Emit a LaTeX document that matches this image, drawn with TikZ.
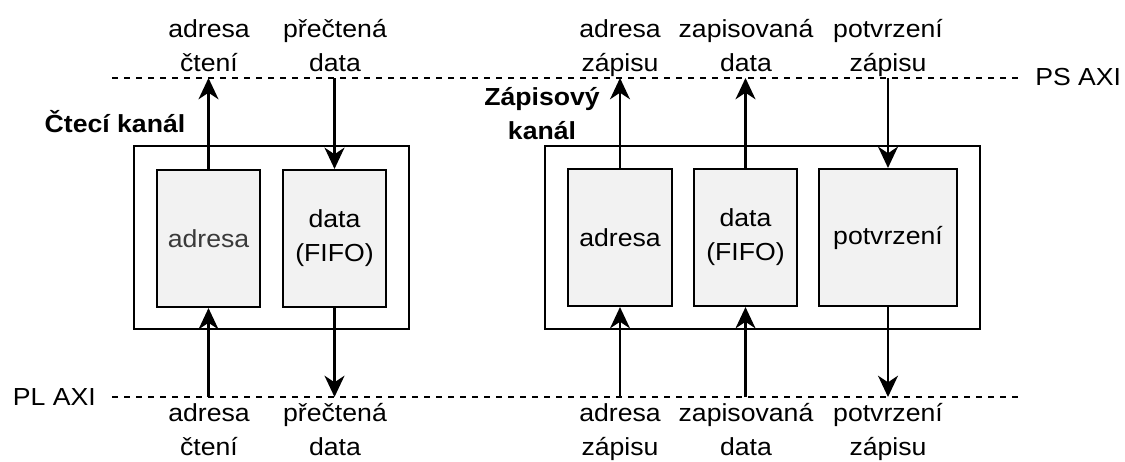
\documentclass[tikz,border=0pt]{standalone}
\usepackage{fontspec}
\setmainfont{Liberation Sans}[FakeStretch=1.08]
\usetikzlibrary{arrows.meta}
\definecolor{innerfill}{HTML}{F2F2F2}
\definecolor{softtext}{HTML}{3A3A3A}
\tikzset{
  lbl/.style={font=\fontsize{18.5}{25.5}\selectfont, align=center, inner sep=0pt, anchor=base},
  blbl/.style={font=\fontsize{18.5}{25.5}\selectfont\bfseries, align=center, inner sep=0pt, anchor=base},
  outerbox/.style={draw, line width=1.6pt, minimum height=137.25pt, inner sep=0pt},
  innerbox/.style={draw, line width=1.6pt, fill=innerfill, minimum height=102.75pt, inner sep=0pt,
                   font=\fontsize{18.5}{25.5}\selectfont, align=center},
  busline/.style={line width=1.6pt, dash pattern=on 4.5pt off 4.5pt},
  arr/.style={line width=1.6pt, -{Stealth[length=16pt,width=15pt,inset=5pt]}}
}
\begin{document}
\begin{tikzpicture}[x=0.75pt,y=-0.75pt]
\useasboundingbox (0,0) rectangle (1125,461);

% bus lines
\coordinate (PSa) at (112,78);
\coordinate (PSb) at (1022,78);
\coordinate (PLa) at (112,397);
\coordinate (PLb) at (1022,397);
\draw[busline] (PSa) -- (PSb);
\draw[busline] (PLa) -- (PLb);
\node[lbl, anchor=base west] (psaxi) at (1035,85) {PS AXI};
\node[lbl, anchor=base east] (plaxi) at (96,405) {PL AXI};

% read channel
\node[outerbox, minimum width=206.25pt] (LO) at (271.5,237.5) {};
\node[innerbox, minimum width=77.25pt, text=softtext] (LA) at (208.5,238.5) {adresa};
\node[innerbox, minimum width=77.25pt] (LD) at (334.5,238.5) {data\\(FIFO)};
\node[blbl] (LT) at (115,132) {Čtecí kanál};

% write channel
\node[outerbox, minimum width=326.25pt] (RO) at (762.5,237.5) {};
\node[innerbox, minimum width=78pt] (RA) at (620,237.5) {adresa};
\node[innerbox, minimum width=77.25pt] (RD) at (745.5,237.5) {data\\(FIFO)};
\node[innerbox, minimum width=103.5pt] (RP) at (888,237.5) {potvrzení};
\node[blbl] (RT) at (542,139) {Zápisový\\kanál};

% arrows to PS AXI
\draw[arr] (LA.north) -- (LA.north |- PSa);
\draw[arr] (LD.north |- PSa) -- (LD.north);
\draw[arr] (RA.north) -- (RA.north |- PSa);
\draw[arr] (RD.north) -- (RD.north |- PSa);
\draw[arr] (RP.north |- PSa) -- (RP.north);

% arrows to PL AXI
\draw[arr] (LA.south |- PLa) -- (LA.south);
\draw[arr] (LD.south) -- (LD.south |- PLa);
\draw[arr] (RA.south |- PLa) -- (RA.south);
\draw[arr] (RD.south |- PLa) -- (RD.south);
\draw[arr] (RP.south) -- (RP.south |- PLa);

% top labels
\node[lbl] (t1) at (209,71) {adresa\\čtení};
\node[lbl] (t2) at (335,71) {přečtená\\data};
\node[lbl] (t3) at (620,71) {adresa\\zápisu};
\node[lbl] (t4) at (746,71) {zapisovaná\\data};
\node[lbl] (t5) at (888,71) {potvrzení\\zápisu};

% bottom labels
\node[lbl] (b1) at (209,455) {adresa\\čtení};
\node[lbl] (b2) at (335,455) {přečtená\\data};
\node[lbl] (b3) at (620,455) {adresa\\zápisu};
\node[lbl] (b4) at (746,455) {zapisovaná\\data};
\node[lbl] (b5) at (888,455) {potvrzení\\zápisu};
\end{tikzpicture}
\end{document}
